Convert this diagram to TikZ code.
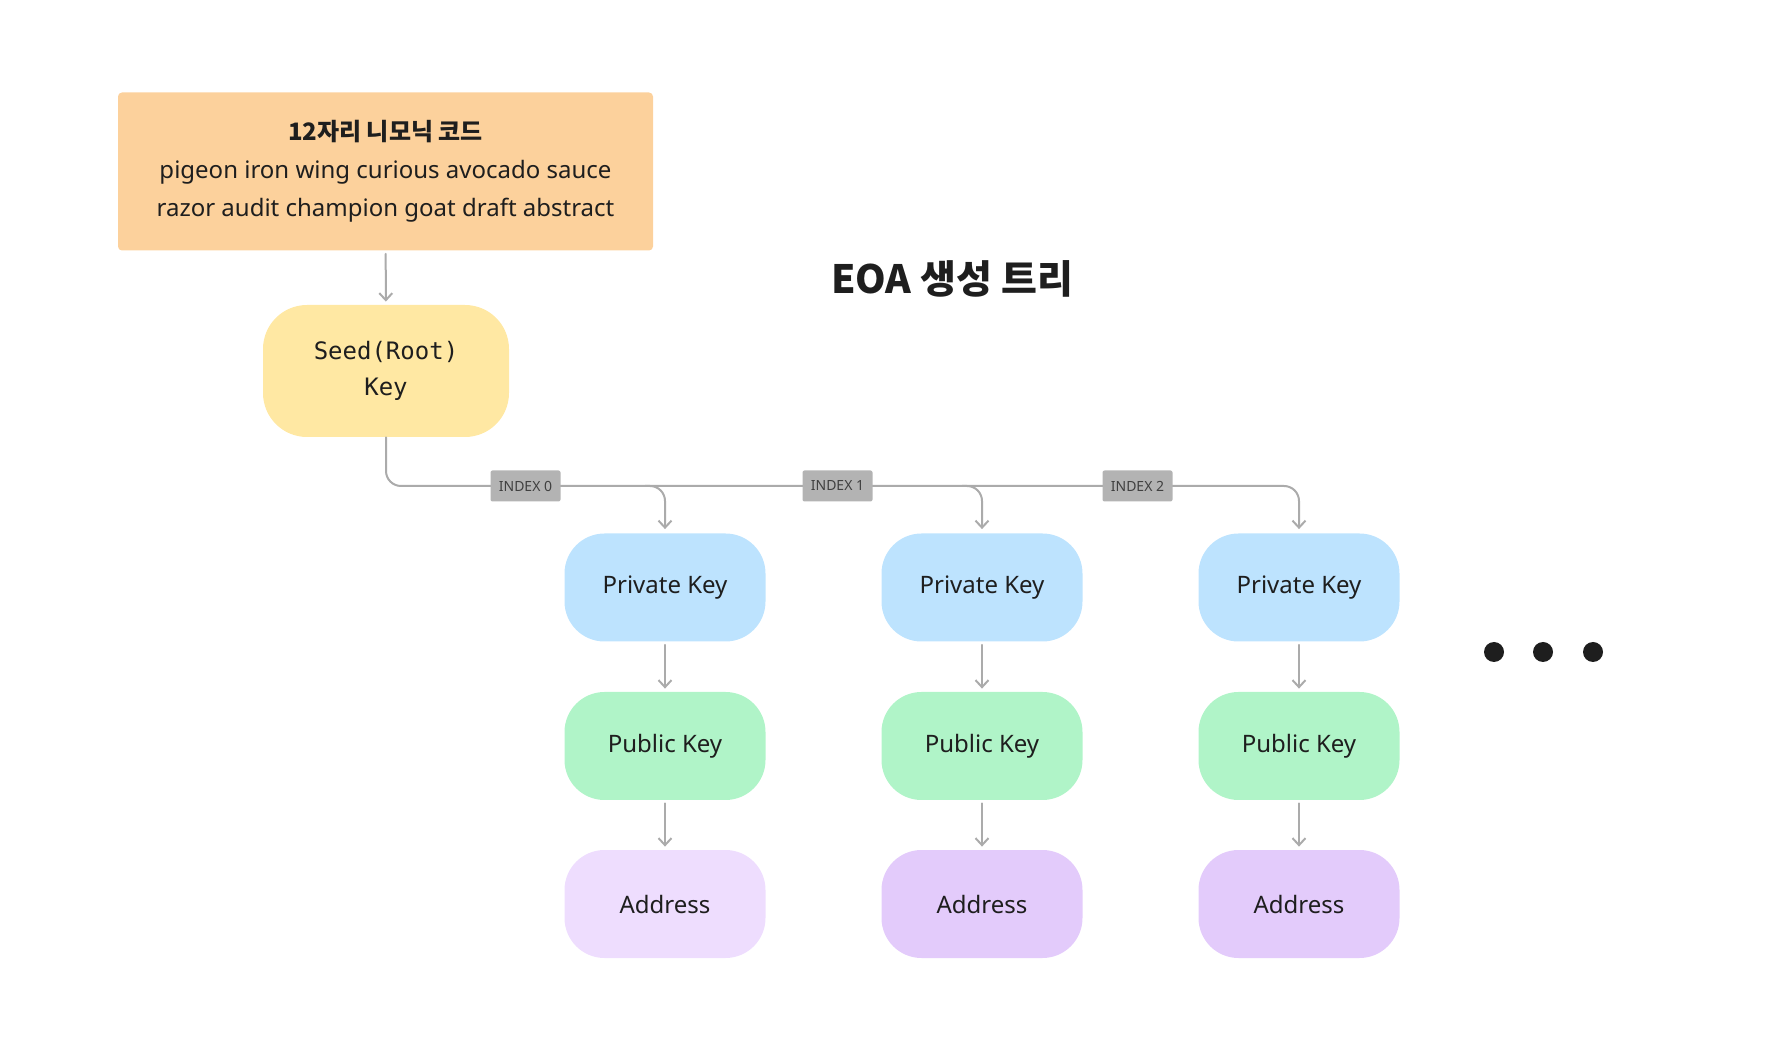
\documentclass[tikz,border=0pt]{standalone}
\usepackage{fontspec}
\setmainfont{Noto Sans}
\setmonofont{DejaVu Sans Mono}
\newfontfamily\krfont{Noto Sans CJK KR}
\usetikzlibrary{arrows.meta}

\definecolor{mnemfill}{HTML}{FCD19C}
\definecolor{seedfill}{HTML}{FFE8A3}
\definecolor{privfill}{HTML}{BDE3FE}
\definecolor{pubfill}{HTML}{B0F4C8}
\definecolor{addrA}{HTML}{EEDDFE}
\definecolor{addrB}{HTML}{E3CBFB}
\definecolor{idxfill}{HTML}{B3B3B3}
\definecolor{linkgray}{HTML}{ABABAB}
\definecolor{ink}{HTML}{1E1E1E}

\tikzset{
  link/.style={draw=linkgray,line width=1pt},
  keybox/.style={rectangle,rounded corners=20pt,minimum width=100.5pt,minimum height=54pt,
    text=ink,font=\fontsize{12}{14}\selectfont},
  idxbox/.style={rectangle,fill=idxfill,rounded corners=1pt,minimum width=35pt,minimum height=15.5pt,
    inner sep=1pt,text=ink!85,font=\fontsize{7}{8}\selectfont},
}

\begin{document}
\begin{tikzpicture}[x=0.5pt,y=-0.5pt,line cap=round,line join=round,
    >={Straight Barb[length=3.5pt,width=6.5pt]}]
    \useasboundingbox (0,0) rectangle (1768,1042);
    \node[rectangle,fill=mnemfill,rounded corners=2pt,minimum width=267.5pt,minimum height=79pt,
      align=center,text=ink,font=\fontsize{12}{19}\selectfont] (mnem) at (385.5,171.5)
      {{\krfont\bfseries 12자리 니모닉 코드}\\pigeon iron wing curious avocado sauce\\razor audit champion goat draft abstract};
    \node[rectangle,fill=seedfill,rounded corners=22pt,minimum width=123pt,minimum height=66pt,
      align=center,text=ink,font=\ttfamily\fontsize{12}{18}\selectfont] (seed) at (386,371)
      {Seed(Root)\\Key};
    \node[text=ink,font=\krfont\bfseries\fontsize{19.5}{24}\selectfont] (title) at (952,279) {EOA 생성 트리};
    \draw[link,->,shorten <=1.5pt,shorten >=1.5pt] (mnem) -- (seed);
    % key columns
    \foreach \i/\cx/\ac in {1/665/addrA,2/982/addrB,3/1299/addrB} {
      \node[keybox,fill=privfill] (priv\i) at (\cx,587.5) {Private Key};
      \node[keybox,fill=pubfill] (pub\i) at (\cx,746) {Public Key};
      \node[keybox,fill=\ac] (addr\i) at (\cx,904) {Address};
      \draw[link,->,shorten <=1.5pt,shorten >=1.5pt] (priv\i) -- (pub\i);
      \draw[link,->,shorten <=1.5pt,shorten >=1.5pt] (pub\i) -- (addr\i);
    }
    \coordinate (bend) at (386,486);
    \coordinate (turn) at (1299,486);
    \draw[link,->,rounded corners=7.5pt,shorten >=2pt] (seed.south) -- (bend) -- (turn) -- (priv3.north);
    \foreach \i/\cx in {1/665,2/982} {
      \coordinate (fork\i) at (\cx-20,486);
      \coordinate (drop\i) at (\cx,486);
      \draw[link,->,rounded corners=7.5pt,shorten >=2pt] (fork\i) -- (drop\i) -- (priv\i.north);
    }
    \node[idxbox] (idx0) at (525.5,486) {INDEX 0};
    \node[idxbox] (idx1) at (837.5,486) {INDEX 1};
    \node[idxbox] (idx2) at (1137.5,486) {INDEX 2};
    \foreach \dx in {1494,1543,1593}
      \fill[ink] (\dx,652) circle (5pt);
  \end{tikzpicture}
\end{document}
